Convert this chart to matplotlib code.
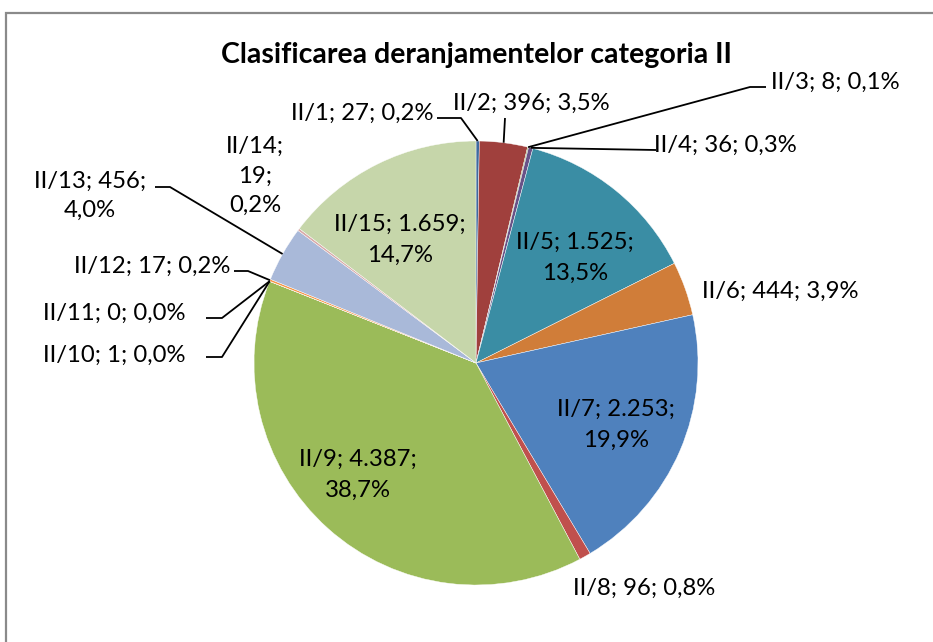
import numpy as np
import matplotlib
matplotlib.use("Agg")
from matplotlib import pyplot as plt
from matplotlib.patches import Rectangle

plt.rcParams['font.family'] = ['Lato', 'DejaVu Sans']

W, H = 933, 642

categories = ["II/1", "II/2", "II/3", "II/4", "II/5", "II/6", "II/7", "II/8",
              "II/9", "II/10", "II/11", "II/12", "II/13", "II/14", "II/15"]
values = [27, 396, 8, 36, 1525, 444, 2253, 96, 4387, 1, 0, 17, 456, 19, 1659]
colors = ["#3F6A9E", "#A0403D", "#7F9C45", "#695287", "#3A8DA4", "#D07D39",
          "#4F81BD", "#C0504D", "#9BBB59", "#8064A2", "#4BACC6", "#F79646",
          "#A9B9D9", "#D9A9A8", "#C6D6AA"]
title = "Clasificarea deranjamentelor categoria II"

# layout: label centre (px, y down), line breaks, leader path start points
label_layout = {
    "II/1": ((362, 113), " ", [(437, 118), (461, 118)]),
    "II/2": ((531, 103), " ", [(505, 118)]),
    "II/3": ((835, 82), " ", [(766, 87), (750, 87)]),
    "II/4": ((725, 145), " ", [(656, 150)]),
    "II/5": ((575, 258), "\n", None),
    "II/6": ((780, 291), " ", None),
    "II/7": ((616, 425), "\n", None),
    "II/8": ((644, 588), " ", None),
    "II/9": ((358, 475), "\n", None),
    "II/10": ((114, 355), " ", [(206, 357), (222, 357)]),
    "II/11": ((114, 313), " ", [(206, 318), (222, 318)]),
    "II/12": ((152, 266), " ", [(234, 271), (248, 271)]),
    "II/13": ((90, 196), "13", [(155, 187), (170, 187)]),
    "II/14": ((255, 176), "14", None),
    "II/15": ((400, 240), "\n", None),
}

cx, cy, r = 476, 363, 222


def fmt_num(v):
    return "{:,}".format(v).replace(",", ".")


def fmt_pct(p):
    return ("%.1f%%" % p).replace(".", ",")


def py(y):
    return H - y


fig = plt.figure(figsize=(W / 100, H / 100), dpi=100)
ax = fig.add_axes([0, 0, 1, 1])
ax.set_xlim(0, W)
ax.set_ylim(0, H)
ax.set_aspect("equal")
ax.axis("off")

ax.pie(values, colors=colors, startangle=90, counterclock=False,
       center=(cx, py(cy)), radius=r,
       wedgeprops=dict(linewidth=0.3, edgecolor="white"))
ax.set_xlim(0, W)
ax.set_ylim(0, H)

total = sum(values)
cum = np.cumsum([0] + values)
fs = 17.2

for i, cat in enumerate(categories):
    v = values[i]
    pct = v / total * 100
    parts = [cat + ";", fmt_num(v) + ";", fmt_pct(pct)]
    (lx, ly), mode, path = label_layout[cat]
    if mode == "\n":
        txt = parts[0] + " " + parts[1] + "\n" + parts[2]
        ls = 1.58
    elif mode == "13":
        txt = parts[0] + " " + parts[1] + "\n" + parts[2]
        ls = 1.45
    elif mode == "14":
        txt = "\n".join(parts)
        ls = 1.5
    else:
        txt = " ".join(parts)
        ls = 1.2
    ax.text(lx, py(ly), txt, ha="center", va="center", fontsize=fs,
            linespacing=ls, color="black")
    if path:
        mid = (cum[i] + v / 2) / total * 2 * np.pi
        ex = cx + r * np.sin(mid)
        ey = cy - r * np.cos(mid)
        xs = [p[0] for p in path] + [ex]
        ys = [py(p[1]) for p in path] + [py(ey)]
        ax.plot(xs, ys, color="black", linewidth=1.3, solid_capstyle="butt")

ax.text(476, py(55), title, ha="center", va="center", fontsize=20.5,
        fontweight="bold")

ax.add_patch(Rectangle((6, -20), W + 40, py(13) + 20, fill=False,
                       edgecolor="#8A8A8A", linewidth=1.6))

fig.savefig("out.png", dpi=100)
